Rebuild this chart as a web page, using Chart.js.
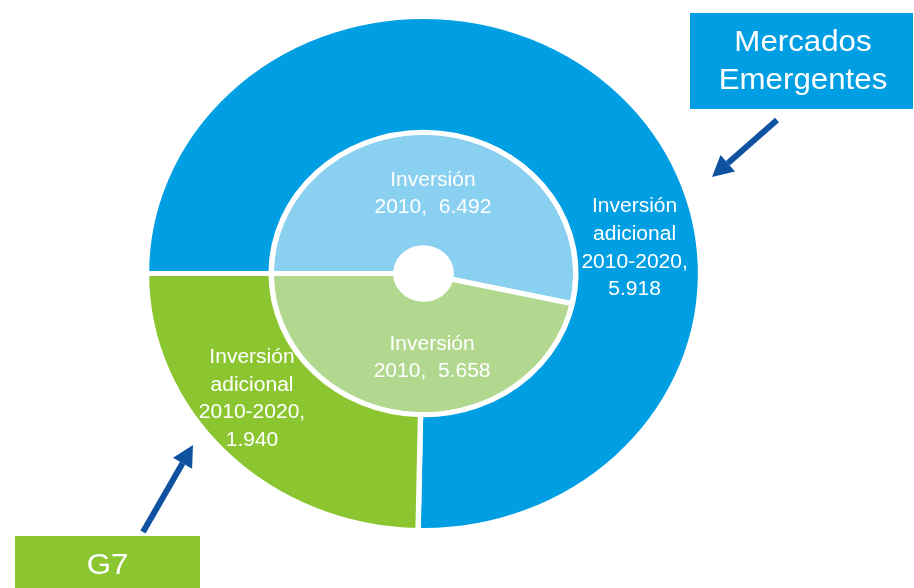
<!DOCTYPE html>
<html>
<head>
<meta charset="utf-8">
<script src="https://cdn.jsdelivr.net/npm/chart.js@4.4.0/dist/chart.umd.min.js"></script>
<style>
  html, body { margin: 0; padding: 0; background: #fff; }
  #wrap { width: 914px; height: 588px; position: relative; }
</style>
</head>
<body>
<div id="wrap"><canvas id="graph"></canvas></div>
<script>
// anillo exterior: inversion adicional 2010-2020
let categorias = ["Mercados Emergentes", "G7"];
let adicional = [5.918, 1.940];
// anillo interior: inversion 2010
let inversion2010 = [6.492, 5.658];
let textoAdicional = ["Inversión", "adicional", "2010-2020,"];
let texto2010 = "Inversión";
let coloresExt = ['rgb(0,159,227)', 'rgb(139,198,48)'];
let coloresInt = ['rgb(137,208,241)', 'rgb(178,216,143)'];
const azulFlecha = 'rgb(14,82,160)';

const SX = 1.078; // la imagen original esta algo estirada en horizontal
const FUENTE = '"Liberation Sans", Arial, sans-serif';

// donde va cada etiqueta (fraccion del radio exterior, respecto al centro)
const posEtiquetas = [
  { ds: 0, i: 0, fx: 0.762, fy: -0.097, lineas: [...textoAdicional, adicional[0].toFixed(3)] },
  { ds: 0, i: 1, fx: -0.619, fy: 0.489, lineas: [...textoAdicional, adicional[1].toFixed(3)] },
  { ds: 1, i: 0, fx: 0.034, fy: -0.309, lineas: [texto2010, "2010,  " + inversion2010[0].toFixed(3)] },
  { ds: 1, i: 1, fx: 0.031, fy: 0.329, lineas: [texto2010, "2010,  " + inversion2010[1].toFixed(3)] }
];

function texto(ctx, s, x, y, size) {
  ctx.save();
  ctx.translate(x, y);
  ctx.scale(SX, 1);
  ctx.font = size + 'px ' + FUENTE;
  ctx.fillStyle = '#fff';
  ctx.textAlign = 'center';
  ctx.textBaseline = 'middle';
  ctx.fillText(s, 0, 0);
  ctx.restore();
}

function flecha(ctx, x0, y0, x1, y1) {
  const ang = Math.atan2(y1 - y0, x1 - x0);
  const largo = 21, ancho = 11;
  const bx = x1 - largo * Math.cos(ang), by = y1 - largo * Math.sin(ang);
  ctx.save();
  ctx.strokeStyle = azulFlecha;
  ctx.fillStyle = azulFlecha;
  ctx.lineWidth = 6;
  ctx.beginPath();
  ctx.moveTo(x0, y0);
  ctx.lineTo(bx, by);
  ctx.stroke();
  ctx.beginPath();
  ctx.moveTo(x1, y1);
  ctx.lineTo(bx + ancho * Math.sin(ang), by - ancho * Math.cos(ang));
  ctx.lineTo(bx - ancho * Math.sin(ang), by + ancho * Math.cos(ang));
  ctx.closePath();
  ctx.fill();
  ctx.restore();
}

const estirar = {
  id: 'estirar',
  beforeDatasetsDraw(chart) {
    const ctx = chart.ctx;
    const cx = chart.getDatasetMeta(0).data[0].x;
    ctx.save();
    ctx.translate(cx, 0);
    ctx.scale(SX, 1);
    ctx.translate(-cx, 0);
  },
  afterDatasetsDraw(chart) {
    chart.ctx.restore();
  }
};

const etiquetas = {
  id: 'etiquetas',
  afterDraw(chart) {
    const ctx = chart.ctx;
    const R = chart.getDatasetMeta(0).data[0].outerRadius;
    posEtiquetas.forEach(p => {
      const arco = chart.getDatasetMeta(p.ds).data[p.i];
      const x = arco.x + SX * p.fx * R;
      const y = arco.y + p.fy * R;
      const lh = 27.7;
      const y0 = y - (p.lineas.length - 1) * lh / 2;
      p.lineas.forEach((l, k) => texto(ctx, l, x, y0 + k * lh, 19.5));
    });

    // recuadros
    ctx.fillStyle = coloresExt[0];
    ctx.fillRect(690, 13, 223, 96);
    texto(ctx, "Mercados", 803, 43, 29);
    texto(ctx, "Emergentes", 803, 81, 29);
    ctx.fillStyle = coloresExt[1];
    ctx.fillRect(15, 536, 185, 60);
    texto(ctx, categorias[1], 107.5, 565.5, 29);

    flecha(ctx, 777, 120, 712, 177);
    flecha(ctx, 143, 532, 193, 445);
  }
};

const graph = document.getElementById('graph');
new Chart(graph, {
  type: 'doughnut',
  data: {
    labels: categorias,
    datasets: [
      { data: adicional, backgroundColor: coloresExt, borderColor: '#fff', borderWidth: 5 },
      { data: inversion2010, backgroundColor: coloresInt, borderColor: '#fff', borderWidth: 5 }
    ]
  },
  options: {
    responsive: true,
    maintainAspectRatio: false,
    animation: false,
    rotation: -90,
    cutout: '10%',
    layout: { padding: { left: 164, right: 231, top: 14, bottom: 55 } },
    plugins: {
      legend: { display: false },
      tooltip: { enabled: false }
    }
  },
  plugins: [estirar, etiquetas]
});
</script>
</body>
</html>
